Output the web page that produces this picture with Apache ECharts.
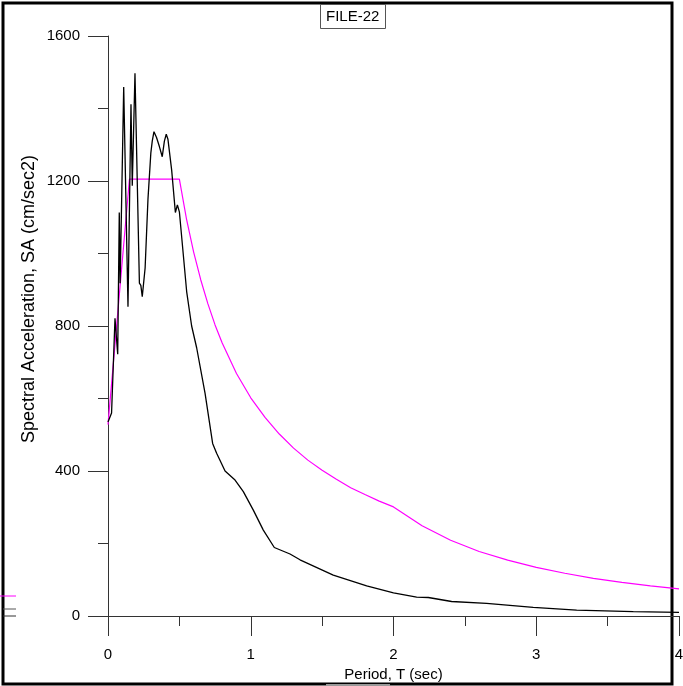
<!DOCTYPE html>
<html>
<head>
<meta charset="utf-8">
<script src="https://cdn.jsdelivr.net/npm/echarts@6/dist/echarts.min.js"></script>
<style>
  html, body { margin: 0; padding: 0; background: #fff; }
  #chart { width: 683px; height: 686px; }
</style>
</head>
<body>
<div id="chart"></div>
<script>
// response spectrum (black) - period (sec) and SA (cm/sec2)
var recordT = [0, 0.025, 0.049, 0.068, 0.079, 0.085, 0.11, 0.14, 0.161, 0.17, 0.189, 0.22, 0.23, 0.24,
  0.26, 0.28, 0.30, 0.31, 0.322, 0.34, 0.36, 0.38, 0.395, 0.408, 0.42, 0.446, 0.472, 0.486, 0.50,
  0.551, 0.586, 0.621, 0.68, 0.733, 0.761, 0.82, 0.89, 0.948, 1.018, 1.088, 1.165, 1.275, 1.345,
  1.578, 1.812, 2.0, 2.162, 2.244, 2.407, 2.652, 2.979, 3.283, 3.68, 4.0];
var recordSA = [535, 560, 821, 722, 1113, 918, 1459, 853, 1412, 1187, 1497, 918, 912, 881,
  960, 1150, 1277, 1310, 1336, 1320, 1295, 1267, 1310, 1329, 1315, 1230, 1113, 1134, 1115,
  895, 800, 740, 614, 476, 449, 400, 375, 343, 292, 237, 189, 171, 155,
  113, 83, 64, 52, 51, 40, 35, 24, 16, 12, 10];

// design spectrum (magenta)
var designT = [0, 0.15, 0.5, 0.55, 0.6, 0.65, 0.7, 0.75, 0.8, 0.9, 1.0, 1.1, 1.2, 1.3, 1.4, 1.5, 1.6, 1.7,
  1.8, 1.9, 2.0, 2.2, 2.4, 2.6, 2.8, 3.0, 3.2, 3.4, 3.6, 3.8, 4.0];
var designSA = [528, 1205, 1205, 1095, 1004, 927, 861, 803, 753, 669, 602, 548, 502, 463, 430, 402, 377, 354,
  335, 317, 301, 249, 209, 178, 154, 134, 118, 104, 93, 83, 75];

var xTicks = [0, 1, 2, 3, 4];
var yTicks = [0, 400, 800, 1200, 1600];

function pairs(xs, ys) {
  return xs.map(function (x, i) { return [x, ys[i]]; });
}

var chart = echarts.init(document.getElementById('chart'), null, { renderer: 'canvas' });
var font = 'Liberation Sans, Arial, sans-serif';

var option = {
  animation: false,
  backgroundColor: '#fff',
  title: {
    text: 'FILE-22',
    left: 320,
    top: 4,
    padding: [5, 6, 5, 6],
    borderWidth: 1,
    borderColor: '#555',
    textStyle: { fontFamily: font, fontSize: 15, fontWeight: 'normal', color: '#000' }
  },
  grid: { left: 108, right: 4, top: 36, bottom: 70, outerBoundsMode: 'none', containLabel: false },
  xAxis: {
    type: 'value',
    min: xTicks[0],
    max: xTicks[xTicks.length - 1],
    interval: 1,
    name: 'Period, T (sec)',
    nameLocation: 'middle',
    nameGap: 47,
    nameTextStyle: { fontFamily: font, fontSize: 15, color: '#000' },
    axisLine: { onZero: false, lineStyle: { color: '#333', width: 1 } },
    axisTick: { show: true, inside: false, length: 20, lineStyle: { color: '#333' } },
    minorTick: { show: true, splitNumber: 2, length: 10, lineStyle: { color: '#333' } },
    axisLabel: { margin: 31, fontFamily: font, fontSize: 15, color: '#000', hideOverlap: false },
    splitLine: { show: false }
  },
  yAxis: {
    type: 'value',
    min: yTicks[0],
    max: yTicks[yTicks.length - 1],
    interval: 400,
    axisLine: { show: true, onZero: false, lineStyle: { color: '#333', width: 1 } },
    axisTick: { show: true, inside: false, length: 20, lineStyle: { color: '#333' } },
    minorTick: { show: true, splitNumber: 2, length: 10, lineStyle: { color: '#333' } },
    axisLabel: { margin: 28, fontFamily: font, fontSize: 15, color: '#000',
      formatter: function (v) { return String(v); } },
    splitLine: { show: false }
  },
  graphic: [
    // outer frame
    { type: 'rect', z: -1, shape: { x: 3, y: 3, width: 669, height: 681 },
      style: { fill: null, stroke: '#000', lineWidth: 3 } },
    { type: 'rect', shape: { x: 326, y: 684, width: 64, height: 2 }, style: { fill: '#999' } },
    // stray line ends at the left edge
    { type: 'line', shape: { x1: 0, y1: 596, x2: 16, y2: 596 }, style: { stroke: '#ff00ff', lineWidth: 1 } },
    { type: 'line', shape: { x1: 3, y1: 609, x2: 16, y2: 609 }, style: { stroke: '#555', lineWidth: 1 } },
    { type: 'line', shape: { x1: 3, y1: 616, x2: 16, y2: 616 }, style: { stroke: '#333', lineWidth: 1 } },
    // y axis name
    { type: 'text', x: 29, y: 299, rotation: Math.PI / 2,
      style: { text: 'Spectral Acceleration, SA (cm/sec2)', fontFamily: font, fontSize: 18,
        fill: '#000', align: 'center', verticalAlign: 'middle' } }
  ],
  series: [
    {
      name: 'Design',
      type: 'line',
      data: pairs(designT, designSA),
      showSymbol: false,
      lineStyle: { color: '#ff00ff', width: 1.2 },
      z: 3
    },
    {
      name: 'FILE-22',
      type: 'line',
      data: pairs(recordT, recordSA),
      showSymbol: false,
      lineStyle: { color: '#000', width: 1.3 },
      z: 4
    }
  ]
};

chart.setOption(option);
</script>
</body>
</html>
